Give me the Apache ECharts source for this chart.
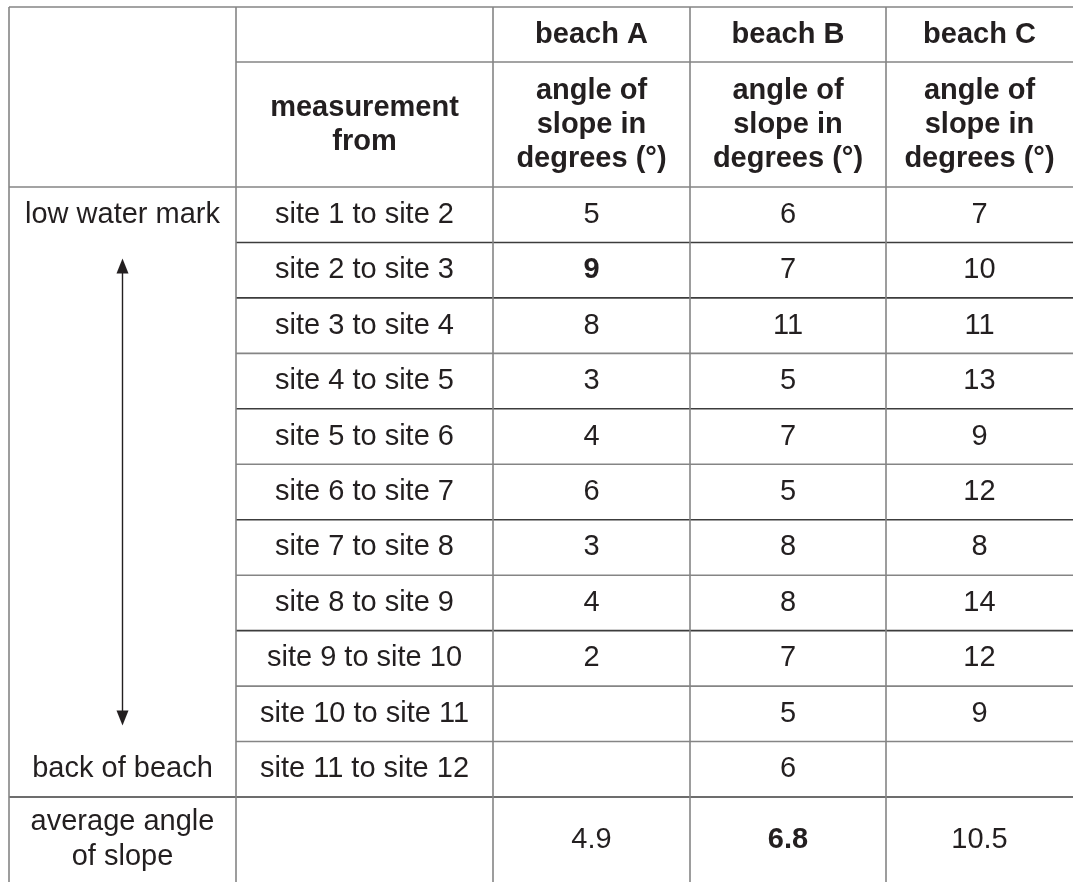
<!DOCTYPE html>
<html>
<head>
<meta charset="utf-8">
<script src="https://cdn.jsdelivr.net/npm/echarts@6/dist/echarts.min.js"></script>
<style>html,body{margin:0;padding:0;background:#fff}#c{width:1073px;height:882px}</style>
</head>
<body>
<div id="c"></div>
<script>
// ---- data ----
const beaches = ["beach A", "beach B", "beach C"];
const colHeader = "measurement\nfrom";
const valueHeader = "angle of\nslope in\ndegrees (°)";
const sites = ["site 1 to site 2", "site 2 to site 3", "site 3 to site 4", "site 4 to site 5",
  "site 5 to site 6", "site 6 to site 7", "site 7 to site 8", "site 8 to site 9",
  "site 9 to site 10", "site 10 to site 11", "site 11 to site 12"];
const beachA = [5, 9, 8, 3, 4, 6, 3, 4, 2, null, null];
const beachB = [6, 7, 11, 5, 7, 5, 8, 8, 7, 5, 6];
const beachC = [7, 10, 11, 13, 9, 12, 8, 14, 12, 9, null];
const averages = [4.9, 6.8, 10.5];
const averageLabel = "average angle\nof slope";
const topLabel = "low water mark";
const bottomLabel = "back of beach";
const boldBody = [[0, 1]];      // [beach index, row index]
const boldAverage = [1];        // beach index

// ---- layout ----
const colEdges = [9, 236, 493, 690, 886, 1073];
const headTop = 7, headMid = 62, headBottom = 187, bodyBottom = 797, tableBottom = 882;
const nRows = sites.length;
const rowH = (bodyBottom - headBottom) / nRows;
const rowEdges = [];
for (let i = 0; i <= nRows; i++) rowEdges.push(headBottom + i * rowH);
const FONT = 'Liberation Sans';
const FS = 29;
const TXT = '#231f20';
const GREY = '#858585', DARK = '#3c3c3c';

const cx = c => (colEdges[c] + colEdges[c + 1]) / 2;
const cyRow = r => (rowEdges[r] + rowEdges[r + 1]) / 2;

// text cells: [x, y, text, bold, lineHeight]
const cells = [];
beaches.forEach((b, i) => cells.push([cx(i + 2), (headTop + headMid) / 2, b, 1, 34]));
cells.push([cx(1), (headMid + headBottom) / 2, colHeader, 1, 34]);
beaches.forEach((b, i) => cells.push([cx(i + 2), (headMid + headBottom) / 2, valueHeader, 1, 34]));
cells.push([cx(0), cyRow(0), topLabel, 0, 34]);
cells.push([cx(0), cyRow(nRows - 1), bottomLabel, 0, 34]);
const series3 = [beachA, beachB, beachC];
sites.forEach((s, r) => {
  cells.push([cx(1), cyRow(r), s, 0, 34]);
  series3.forEach((arr, b) => {
    if (arr[r] !== null && arr[r] !== undefined) {
      const bold = boldBody.some(p => p[0] === b && p[1] === r) ? 1 : 0;
      cells.push([cx(b + 2), cyRow(r), String(arr[r]), bold, 34]);
    }
  });
});
const footY = (bodyBottom + tableBottom) / 2;
cells.push([cx(0), footY, averageLabel, 0, 35]);
averages.forEach((v, b) => cells.push([cx(b + 2), footY, v.toFixed(1), boldAverage.includes(b) ? 1 : 0, 35]));

// grid lines: [x1, y1, x2, y2, dark]
const lines = [];
lines.push([colEdges[0], headTop, colEdges[5], headTop, 0]);
lines.push([colEdges[1], headMid, colEdges[5], headMid, 0]);
lines.push([colEdges[0], headBottom, colEdges[5], headBottom, 0]);
const darkRows = [1, 2, 4, 6, 8];
for (let i = 1; i < nRows; i++) lines.push([colEdges[1], rowEdges[i], colEdges[5], rowEdges[i], darkRows.includes(i) ? 1 : 0]);
lines.push([colEdges[0], bodyBottom, colEdges[5], bodyBottom, 1]);
for (let c = 0; c < 5; c++) lines.push([colEdges[c], headTop, colEdges[c], tableBottom, 0]);

// arrow: [x, yTop, yBottom]
const arrow = [[cx(0), rowEdges[1] + 16, rowEdges[nRows - 1] - 16]];

const chart = echarts.init(document.getElementById('c'), null, {renderer: 'canvas'});
chart.setOption({
  animation: false,
  backgroundColor: '#fff',
  grid: {left: 0, right: 0, top: 0, bottom: 0},
  xAxis: {type: 'value', min: 0, max: 1073, show: false},
  yAxis: {type: 'value', min: 0, max: 882, inverse: true, show: false},
  series: [
    {
      type: 'custom', data: lines, silent: true,
      renderItem: (params, api) => {
        const p1 = api.coord([api.value(0), api.value(1)]);
        const p2 = api.coord([api.value(2), api.value(3)]);
        return {type: 'line', shape: {x1: p1[0], y1: p1[1], x2: p2[0], y2: p2[1]},
          style: {stroke: api.value(4) ? DARK : GREY, lineWidth: 1.6}};
      }
    },
    {
      type: 'custom', data: arrow, silent: true,
      renderItem: (params, api) => {
        const t = api.coord([api.value(0), api.value(1)]);
        const b = api.coord([api.value(0), api.value(2)]);
        const hw = 6, hh = 15;
        return {type: 'group', children: [
          {type: 'line', shape: {x1: t[0], y1: t[1] + hh - 2, x2: b[0], y2: b[1] - hh + 2}, style: {stroke: TXT, lineWidth: 1.4}},
          {type: 'polygon', shape: {points: [[t[0], t[1]], [t[0] - hw, t[1] + hh], [t[0] + hw, t[1] + hh]]}, style: {fill: TXT}},
          {type: 'polygon', shape: {points: [[b[0], b[1]], [b[0] - hw, b[1] - hh], [b[0] + hw, b[1] - hh]]}, style: {fill: TXT}}
        ]};
      }
    },
    {
      type: 'custom', data: cells, silent: true,
      dimensions: ['x', 'y', 'text', 'bold', 'lh'],
      encode: {x: 0, y: 1},
      renderItem: (params, api) => {
        const d = cells[params.dataIndex];
        const p = api.coord([d[0], d[1]]);
        return {type: 'text', x: p[0], y: p[1], style: {
          text: d[2], fill: TXT,
          font: (d[3] ? 'bold ' : '') + FS + 'px "' + FONT + '", Arial, sans-serif',
          align: 'center', verticalAlign: 'middle', lineHeight: d[4]
        }};
      }
    }
  ]
});
</script>
</body>
</html>
